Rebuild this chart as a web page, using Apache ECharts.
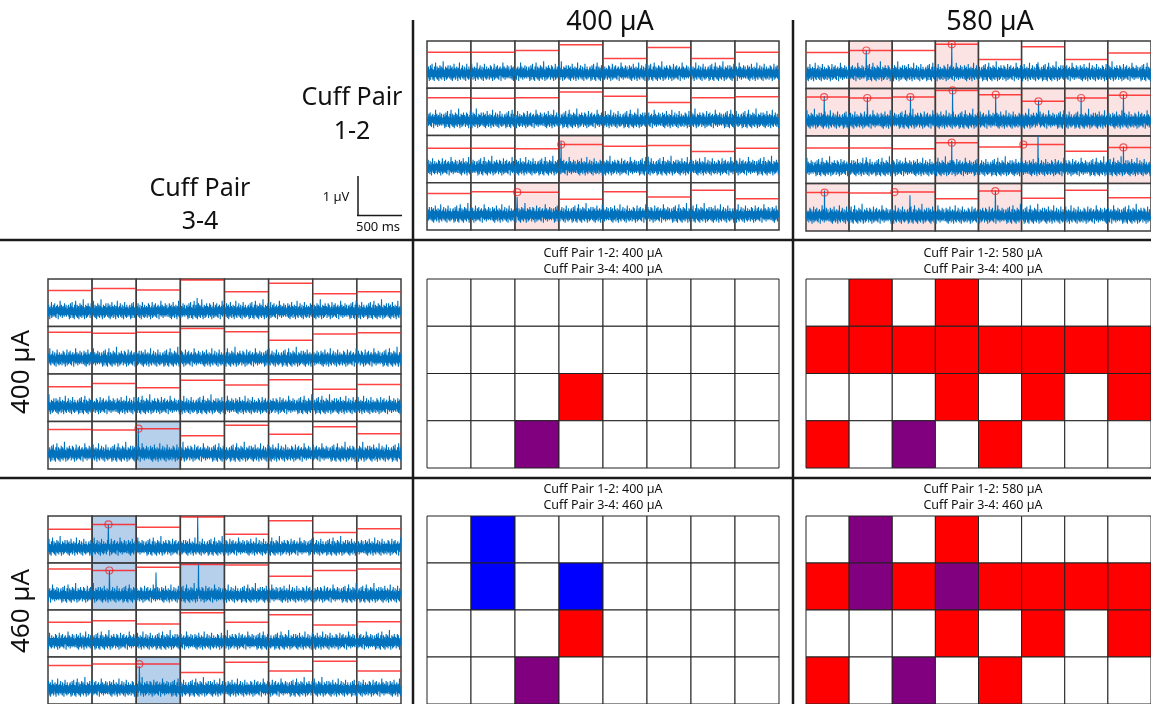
<!DOCTYPE html>
<html>
<head>
<meta charset="utf-8">
<script src="https://cdn.jsdelivr.net/npm/echarts@6/dist/echarts.min.js"></script>
<style>
  html, body { margin: 0; padding: 0; background: #fff; }
  #chart { width: 1151px; height: 704px; }
</style>
</head>
<body>
<div id="chart"></div>
<script>
// --- data ---
// threshold position per cell, as fraction of cell height measured from the top
const thrTop400 = [
  [.24, .24, .20, .08, .37, .14, .37, .24],
  [.20, .21, .20, .08, .17, .30, .20, .18],
  [.27, .27, .28, .19, .23, .21, .34, .27],
  [.23, .19, .20, .35, .19, .30, .16, .34]
]
const thrTop580 = [
  [.24, .20, .20, .07, .39, .12, .39, .25],
  [.18, .20, .18, .04, .13, .27, .20, .14],
  [.25, .25, .27, .14, .23, .18, .32, .24],
  [.19, .20, .18, .32, .16, .31, .14, .30]
]
const thrLeft400 = [
  [.24, .20, .23, .02, .27, .09, .31, .27],
  [.12, .14, .12, .04, .11, .29, .16, .13],
  [.27, .20, .29, .13, .23, .12, .32, .22],
  [.17, .18, .15, .30, .08, .27, .11, .26]
]
const thrLeft460 = [
  [.28, .18, .24, .02, .39, .10, .35, .27],
  [.13, .16, .09, .03, .04, .28, .16, .13],
  [.26, .23, .30, .06, .26, .10, .32, .25],
  [.18, .15, .15, .33, .11, .30, .09, .30]
]

// cells that crossed threshold: [row, col]
const shadeTop400 = [[2, 3], [3, 2]]
const shadeTop580 = [[0, 1], [0, 3], [1, 0], [1, 1], [1, 2], [1, 3], [1, 4], [1, 5], [1, 6], [1, 7],
  [2, 3], [2, 5], [2, 7], [3, 0], [3, 2], [3, 4]]
const shadeLeft400 = [[3, 2]]
const shadeLeft460 = [[0, 1], [1, 1], [1, 3], [3, 2]]

// spikes: [row, col, x position in cell, peak (fraction from top)]
const spikesTop400 = [[2, 3, .05, .12], [3, 2, .05, .30], [2, 5, .03, .45]]
const spikesTop580 = [
  [0, 1, .40, .20], [0, 3, .38, .04], [0, 5, .38, .45],
  [1, 0, .42, .16], [1, 1, .42, .18], [1, 2, .42, .16], [1, 3, .40, .02],
  [1, 4, .40, .12], [1, 5, .39, .25], [1, 6, .38, .18], [1, 7, .36, .12],
  [2, 1, .40, .45], [2, 3, .38, .10], [2, 5, .38, .00], [2, 7, .36, .22],
  [3, 0, .43, .15], [3, 2, .41, .25], [3, 4, .39, .14]
]
const spikesLeft400 = [[3, 2, .05, .15], [0, 3, .38, .40]]
const spikesLeft460 = [[0, 1, .37, .18], [1, 1, .39, .16], [1, 3, .41, .00],
  [0, 3, .39, .00], [3, 2, .07, .20], [1, 2, .45, .20]]

// threshold crossing markers: [row, col, x position in cell]
const circTop400 = [[2, 3, .05], [3, 2, .05]]
const circTop580 = [
  [0, 1, .40], [0, 3, .38], [1, 0, .42], [1, 1, .42], [1, 2, .42], [1, 3, .40],
  [1, 4, .40], [1, 5, .39], [1, 6, .38], [1, 7, .36], [2, 3, .38], [2, 5, .04],
  [2, 7, .36], [3, 0, .43], [3, 2, .05], [3, 4, .39]
]
const circLeft400 = [[3, 2, .05]]
const circLeft460 = [[0, 1, .37], [1, 1, .39], [3, 2, .07]]

// detection maps: 0 none, 1 cuff pair 1-2, 2 cuff pair 3-4, 3 both
const heat400x400 = [
  [0, 0, 0, 0, 0, 0, 0, 0],
  [0, 0, 0, 0, 0, 0, 0, 0],
  [0, 0, 0, 1, 0, 0, 0, 0],
  [0, 0, 3, 0, 0, 0, 0, 0]
]
const heat580x400 = [
  [0, 1, 0, 1, 0, 0, 0, 0],
  [1, 1, 1, 1, 1, 1, 1, 1],
  [0, 0, 0, 1, 0, 1, 0, 1],
  [1, 0, 3, 0, 1, 0, 0, 0]
]
const heat400x460 = [
  [0, 2, 0, 0, 0, 0, 0, 0],
  [0, 2, 0, 2, 0, 0, 0, 0],
  [0, 0, 0, 1, 0, 0, 0, 0],
  [0, 0, 3, 0, 0, 0, 0, 0]
]
const heat580x460 = [
  [0, 3, 0, 1, 0, 0, 0, 0],
  [1, 3, 1, 3, 1, 1, 1, 1],
  [0, 0, 0, 1, 0, 1, 0, 1],
  [1, 0, 3, 0, 1, 0, 0, 0]
]

// hand-read noise snippets (arbitrary units)
const noiseA = [2, -3, 4, -1, 5, -4, 1, -6, 3, 0, -2, 6, -5, 2, -1, 4, -3, 7, -2, 1, -5, 3, -4, 2, 0, -6, 5, -1, 3, -3,
  8, -2, 1, -4, 2, -1, 5, -5, 0, 3, -2, 4, -6, 1, 2, -3, 6, -1, -4, 3, -2, 5, 0, -5, 2, -1, 4, -3, 9, -2,
  1, -4, 3, -6, 2, 0, -3, 5, -2, 1, -5, 4, -1, 3, -4, 2, 6, -3, 0, -2]
const noiseB = [-1, 3, -4, 2, 6, -2, 0, -5, 4, -3, 1, 5, -6, 2, -1, 3, -2, -4, 7, -1, 2, -3, 4, -5, 1, 0, 3, -2, 5, -4,
  -1, 2, -6, 4, 1, -3, 3, -1, 8, -4, 0, 2, -5, 3, -2, 1, 4, -3, -1, 6, -4, 2, 0, -2, 3, -5, 5, -1, 1, -3,
  2, -6, 4, 0, -2, 7, -3, 1, -4, 3, -1, 2, -5, 5, -2, 0, 3, -4, 1, -1]
const noiseC = [4, -2, 1, -5, 3, 0, -3, 6, -1, 2, -4, 5, -2, -1, 3, -6, 2, 1, -3, 4, -2, 7, -5, 0, 2, -1, 3, -4, 5, -2,
  1, -3, 0, 6, -4, 2, -1, 3, -5, 1, 4, -2, -3, 5, -1, 2, -6, 3, 0, -2, 4, -3, 1, 8, -4, 2, -1, -3, 5, -2,
  3, -5, 1, 0, 4, -3, 2, -1, -4, 6, -2, 1, -3, 3, -1, 5, -4, 2, 0, -2]
const noiseSet = [noiseA, noiseB, noiseC]

const BASE = 0.68   // trace baseline, fraction from top of a cell
const AMP = 0.028
const FONT = 'Noto Sans'
const TRACE = '#0072bd'
const PINK = 'rgba(250, 200, 200, 0.5)'
const LIGHTBLUE = 'rgba(110, 160, 215, 0.5)'
const HEATCOL = ['#ffffff', '#ff0000', '#0000ff', '#800080']

const chart = echarts.init(document.getElementById('chart'))

const grids = [
  { left: 427, top: 41, width: 352, height: 189 },  // top 400
  { left: 806, top: 41, width: 352, height: 190 },  // top 580
  { left: 48, top: 279, width: 353, height: 190 },  // left 400
  { left: 48, top: 516, width: 353, height: 189 },  // left 460
  { left: 427, top: 279, width: 352, height: 189 }, // 400/400
  { left: 806, top: 279, width: 352, height: 189 }, // 580/400
  { left: 427, top: 516, width: 352, height: 190 }, // 400/460
  { left: 806, top: 516, width: 352, height: 190 }  // 580/460
]
const xAxes = grids.map((g, i) => ({ type: 'value', gridIndex: i, min: 0, max: 8, show: false }))
const yAxes = grids.map((g, i) => ({ type: 'value', gridIndex: i, min: 0, max: 4, show: false }))

function cellRect(gi, cells, stroke, lw, z) {
  return {
    type: 'custom', xAxisIndex: gi, yAxisIndex: gi, z, silent: true, clip: false,
    data: cells,
    renderItem(params, api) {
      const c = api.value(0), r = api.value(1)
      const p0 = api.coord([c, 4 - r])
      const p1 = api.coord([c + 1, 3 - r])
      return {
        type: 'rect',
        shape: { x: p0[0], y: p0[1], width: p1[0] - p0[0], height: p1[1] - p0[1] },
        style: { fill: cells[params.dataIndex][2], stroke, lineWidth: lw }
      }
    }
  }
}

function tracePanel(gi, thr, shade, shadeCol, spikes, circles) {
  const out = []
  const cells = []
  for (let r = 0; r < 4; r++) {
    for (let c = 0; c < 8; c++) {
      const on = shade.some(s => s[0] === r && s[1] === c)
      cells.push([c, r, on ? shadeCol : '#ffffff'])
    }
  }
  out.push(cellRect(gi, cells, '#3c3c3c', 1.5, 1))

  // traces: two snippets back to back per cell
  for (let r = 0; r < 4; r++) {
    for (let c = 0; c < 8; c++) {
      const k = (r * 8 + c + gi) % 3
      const noise = noiseSet[k].concat(noiseSet[(k + 1) % 3])
      const n = noise.length
      const shift = (r * 23 + c * 17 + gi * 5) % n
      const pts = []
      for (let i = 0; i < n; i++) {
        pts.push([c + 0.01 + 0.98 * i / (n - 1), 4 - r - BASE + noise[(i + shift) % n] * AMP])
      }
      spikes.filter(s => s[0] === r && s[1] === c).forEach(s => {
        const i = Math.round((s[2] - 0.01) / 0.98 * (n - 1))
        pts[i][1] = 4 - r - s[3]
      })
      out.push({
        type: 'line', xAxisIndex: gi, yAxisIndex: gi, z: 3, silent: true,
        symbol: 'none', data: pts,
        lineStyle: { color: TRACE, width: 1.1 }
      })
    }
  }

  // thresholds
  const th = []
  thr.forEach((row, r) => row.forEach((f, c) => th.push([c, 4 - r - f])))
  out.push({
    type: 'custom', xAxisIndex: gi, yAxisIndex: gi, z: 4, silent: true,
    data: th,
    renderItem(params, api) {
      const a = api.coord([api.value(0) + 0.01, api.value(1)])
      const b = api.coord([api.value(0) + 0.99, api.value(1)])
      return {
        type: 'line',
        shape: { x1: a[0], y1: a[1], x2: b[0], y2: b[1] },
        style: { stroke: 'rgba(255, 20, 20, 0.8)', lineWidth: 1.5 }
      }
    }
  })

  // crossing markers
  out.push({
    type: 'scatter', xAxisIndex: gi, yAxisIndex: gi, z: 5, silent: true,
    symbol: 'circle', symbolSize: 7,
    itemStyle: { color: 'rgba(0,0,0,0)', borderColor: 'rgba(230, 30, 30, 0.85)', borderWidth: 1.2 },
    data: circles.map(s => [s[1] + s[2], 4 - s[0] - thr[s[0]][s[1]]])
  })
  return out
}

function heatPanel(gi, map) {
  const cells = []
  map.forEach((row, r) => row.forEach((v, c) => cells.push([c, r, HEATCOL[v]])))
  return cellRect(gi, cells, '#222222', 1, 2)
}

const series = [
  ...tracePanel(0, thrTop400, shadeTop400, PINK, spikesTop400, circTop400),
  ...tracePanel(1, thrTop580, shadeTop580, PINK, spikesTop580, circTop580),
  ...tracePanel(2, thrLeft400, shadeLeft400, LIGHTBLUE, spikesLeft400, circLeft400),
  ...tracePanel(3, thrLeft460, shadeLeft460, LIGHTBLUE, spikesLeft460, circLeft460),
  heatPanel(4, heat400x400),
  heatPanel(5, heat580x400),
  heatPanel(6, heat400x460),
  heatPanel(7, heat580x460)
]

function label(text, x, y, size, extra) {
  return Object.assign({
    type: 'text', x, y, silent: true,
    style: { text, fontFamily: FONT, fontSize: size, fill: '#111', align: 'center', verticalAlign: 'middle' }
  }, extra || {})
}
function rule(x1, y1, x2, y2, w) {
  return { type: 'line', silent: true, shape: { x1, y1, x2, y2 }, style: { stroke: '#1a1a1a', lineWidth: w } }
}

const graphic = [
  rule(413, 20, 413, 704, 2.5),
  rule(793, 20, 793, 704, 2.5),
  rule(0, 240, 1151, 240, 2.5),
  rule(0, 478, 1151, 478, 2.5),
  // scale bar
  rule(358, 176, 358, 216, 1.5),
  rule(357, 215.5, 402, 215.5, 1.5),
  label('1 µV', 336, 197, 13),
  label('500 ms', 378, 227, 13),
  label('400 µA', 610, 22, 27),
  label('580 µA', 990, 22, 27),
  label('Cuff Pair', 352, 98, 25),
  label('1-2', 352, 132, 25),
  label('Cuff Pair', 200, 189, 25),
  label('3-4', 200, 222, 25),
  label('400 µA', 22, 372, 26, { rotation: Math.PI / 2 }),
  label('460 µA', 22, 611, 26, { rotation: Math.PI / 2 }),
  label('Cuff Pair 1-2: 400 µA', 603, 253, 12.5),
  label('Cuff Pair 3-4: 400 µA', 603, 269, 12.5),
  label('Cuff Pair 1-2: 580 µA', 983, 253, 12.5),
  label('Cuff Pair 3-4: 400 µA', 983, 269, 12.5),
  label('Cuff Pair 1-2: 400 µA', 603, 489, 12.5),
  label('Cuff Pair 3-4: 460 µA', 603, 505, 12.5),
  label('Cuff Pair 1-2: 580 µA', 983, 489, 12.5),
  label('Cuff Pair 3-4: 460 µA', 983, 505, 12.5)
]

chart.setOption({
  animation: false,
  backgroundColor: '#ffffff',
  grid: grids,
  xAxis: xAxes,
  yAxis: yAxes,
  series,
  graphic
})
</script>
</body>
</html>
